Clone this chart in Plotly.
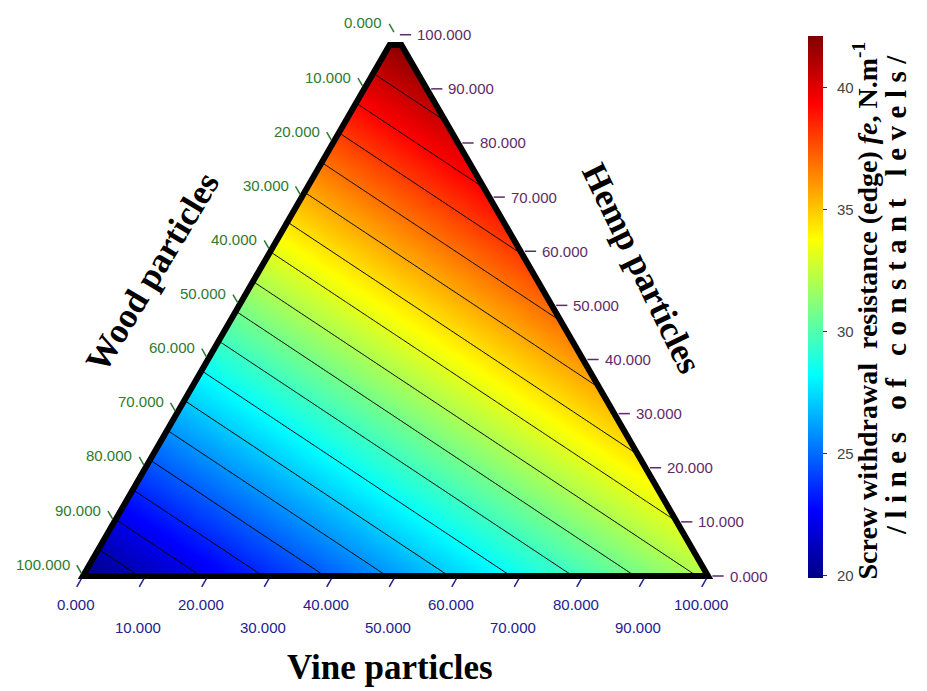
import numpy as np
import plotly.graph_objects as go

# ---------------- data ----------------
components = ["Wood particles", "Vine particles", "Hemp particles"]
pure_response = [19.9, 32.2, 42.1]          # fe (N.m-1) at 100 % wood, vine, hemp
axis_ticks = [0, 10, 20, 30, 40, 50, 60, 70, 80, 90, 100]
tick_text = ["0.000", "10.000", "20.000", "30.000", "40.000", "50.000",
             "60.000", "70.000", "80.000", "90.000", "100.000"]
contour_start, contour_end, contour_step = 21.0, 40.6, 1.22
colorbar_range = [19.9, 42.1]
colorbar_ticks = [20, 25, 30, 35, 40]
colorbar_ticktext = ["20", "25", "30", "35", "40"]

# ---------------- ternary -> cartesian grid ----------------
SQ = np.sqrt(3) / 2
gx = np.linspace(0, 100, 201)
gy = np.linspace(0, 100 * SQ, 175)
Hm = gy[:, None] / SQ + 0 * gx[None, :]
Vn = gx[None, :] - Hm / 2
Wd = 100 - Vn - Hm
Z = (Wd * pure_response[0] + Vn * pure_response[1] + Hm * pure_response[2]) / 100

jet = [[0, "rgb(0,0,131)"], [0.125, "rgb(0,0,255)"], [0.375, "rgb(0,255,255)"],
       [0.625, "rgb(255,255,0)"], [0.875, "rgb(255,0,0)"], [1, "rgb(128,0,0)"]]

fig = go.Figure()
fig.add_trace(go.Heatmap(
    x=gx, y=gy, z=Z, zsmooth="best", colorscale=jet,
    zmin=colorbar_range[0], zmax=colorbar_range[1], hoverinfo="skip",
    colorbar=dict(x=808 / 927, xanchor="left", xpad=0, ypad=0,
                  y=1 - 307 / 691, yanchor="middle", len=542, lenmode="pixels",
                  thickness=15, outlinewidth=0, ticks="outside", ticklen=4,
                  tickcolor="#333", tickvals=colorbar_ticks,
                  ticktext=["\u2002" + t for t in colorbar_ticktext],
                  tickfont=dict(family="Liberation Sans, Arial", size=15, color="#444"))))
fig.add_trace(go.Contour(
    x=gx, y=gy, z=Z, showscale=False, hoverinfo="skip",
    contours=dict(coloring="none", start=contour_start, end=contour_end,
                  size=contour_step),
    line=dict(color="black", width=1)))

shapes = []
white = dict(type="path", xref="x", yref="y", fillcolor="white",
             line=dict(width=0), layer="above")
top_y = 84.96
top_x = top_y / (2 * SQ)
shapes.append(dict(white, path=f"M -3,-0.05 L 0,0 L 50,{100*SQ} L 50,95 L -3,95 Z"))
shapes.append(dict(white, path=f"M 103,-0.05 L 100,0 L 50,{100*SQ} L 50,95 L 103,95 Z"))
shapes.append(dict(white, path="M -3,-0.3 L 103,-0.3 L 103,-3 L -3,-3 Z"))
shapes.append(dict(white, path=f"M 45,{top_y} L 55,{top_y} L 55,95 L 45,95 Z"))
shapes.append(dict(type="path", xref="x", yref="y", layer="above",
                   path=f"M 0,0 L {top_x},{top_y} L {100-top_x},{top_y} L 100,0 Z",
                   line=dict(color="black", width=6)))

green = "#2f7a30"
purple = "#5f2a68"
navy = "#22228f"
tick_font = "Liberation Sans, Arial"
ann = []
for t, lab in zip(axis_ticks, tick_text):
    # Wood (left edge): 0 at apex, 100 at bottom-left
    h = 100 - t
    ex, ey = h / 2, h * SQ
    dx, dy = -0.5, SQ
    x1, y1, x2, y2 = ex + 0.5 * dx, ey + 0.5 * dy, ex + 2.0 * dx, ey + 2.0 * dy
    shapes.append(dict(type="line", xref="x", yref="y", x0=x1, y0=y1, x1=x2, y1=y2,
                       line=dict(color=green, width=1.5), layer="above"))
    ann.append(dict(x=x2, y=y2, xref="x", yref="y", text=lab, showarrow=False,
                    xanchor="right", yanchor="middle", xshift=-5, yshift=1,
                    font=dict(family=tick_font, size=15, color=green)))
    # Hemp (right edge): 0 at bottom-right, 100 at apex
    ex, ey = 100 - t / 2, t * SQ
    shapes.append(dict(type="line", xref="x", yref="y", x0=ex + 0.7, y0=ey,
                       x1=ex + 2.5, y1=ey, line=dict(color=purple, width=1.5),
                       layer="above"))
    ann.append(dict(x=ex + 2.5, y=ey, xref="x", yref="y", text=lab, showarrow=False,
                    xanchor="left", yanchor="middle", xshift=4,
                    font=dict(family=tick_font, size=15, color=purple)))
    # Vine (bottom edge): 0 at bottom-left, 100 at bottom-right
    ex, ey = t, 0
    dx, dy = -0.5, -SQ
    x1, y1, x2, y2 = ex + 0.5 * dx, ey + 0.5 * dy, ex + 2.0 * dx, ey + 2.0 * dy
    shapes.append(dict(type="line", xref="x", yref="y", x0=x1, y0=y1, x1=x2, y1=y2,
                       line=dict(color=navy, width=1.5), layer="above"))
    odd = (t // 10) % 2 == 1
    ann.append(dict(x=x2, y=y2, xref="x", yref="y", text=lab, showarrow=False,
                    xanchor="center", yanchor="middle", xshift=-1,
                    yshift=-41 if odd else -18,
                    font=dict(family=tick_font, size=15, color=navy)))

title_font = dict(family="Liberation Serif, Times New Roman", size=35, color="black")
ann.append(dict(x=(390 - 83) / 6.25, y=-(667 - 576) / 6.25, xref="x", yref="y",
                text="<b>" + components[1] + "</b>", showarrow=False, font=title_font))
ann.append(dict(x=(152 - 83) / 6.25, y=(576 - 272) / 6.25, xref="x", yref="y",
                text="<b>" + components[0] + "</b>", showarrow=False, textangle=-59,
                font=title_font))
ann.append(dict(x=(642 - 83) / 6.25, y=(576 - 268) / 6.25, xref="x", yref="y",
                text="<b>" + components[2] + "</b>", showarrow=False, textangle=64,
                font=title_font))
cb_font = dict(family="Liberation Serif, Times New Roman", size=28, color="black")
ann.append(dict(x=885 / 927, y=1 - 311 / 691, xref="paper", yref="paper",
                text="<b>Screw withdrawal  resistance (edge) <i>fe</i>, N.m<sup>-1</sup></b>",
                showarrow=False, textangle=-90, font=cb_font))
ann.append(dict(x=914 / 927, y=1 - 292 / 691, xref="paper", yref="paper",
                text="<span style=\"letter-spacing:7.5px\"><b>/lines of constant levels/</b></span>",
                showarrow=False, textangle=-90,
                font=dict(family="Liberation Serif, Times New Roman", size=29, color="black")))

fig.update_layout(
    width=927, height=691, margin=dict(l=0, r=0, t=0, b=0),
    paper_bgcolor="white", plot_bgcolor="white", showlegend=False,
    xaxis=dict(range=[-83 / 6.25, (927 - 83) / 6.25], visible=False, fixedrange=True),
    yaxis=dict(range=[-(691 - 576) / 6.25, 576 / 6.25], visible=False, fixedrange=True),
    shapes=shapes, annotations=ann)

fig.write_html("out.html", config={"displayModeBar": False},
               post_script="document.body.style.margin='0px';"
                           "document.body.style.overflow='hidden';")
